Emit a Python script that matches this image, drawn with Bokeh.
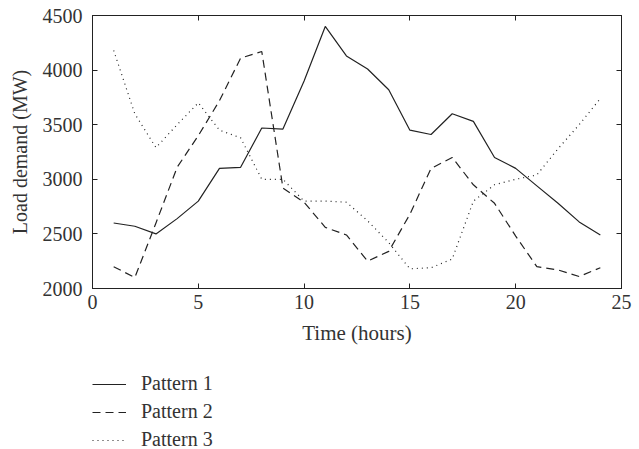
from bokeh.plotting import figure
from bokeh.layouts import column
from bokeh.models import LinearAxis, Range1d, Legend, LegendItem, FixedTicker
from bokeh.embed import file_html
from bokeh.resources import INLINE

hours = list(range(1, 25))
pattern1 = [2600, 2570, 2500, 2640, 2800, 3100, 3110, 3470, 3460, 3900, 4400, 4130,
            4010, 3820, 3450, 3410, 3600, 3530, 3200, 3100, 2940, 2780, 2610, 2490]
pattern2 = [2200, 2100, 2600, 3110, 3400, 3720, 4110, 4170, 2920, 2790, 2560, 2490,
            2250, 2340, 2680, 3100, 3200, 2950, 2780, 2480, 2200, 2170, 2110, 2190]
pattern3 = [4180, 3600, 3290, 3500, 3700, 3450, 3380, 3000, 3000, 2800, 2800, 2790,
            2620, 2420, 2180, 2190, 2270, 2800, 2950, 3000, 3040, 3280, 3500, 3740]
labels = ["Pattern 1", "Pattern 2", "Pattern 3"]
x_ticks = [0, 5, 10, 15, 20, 25]
y_ticks = [2000, 2500, 3000, 3500, 4000, 4500]

FONT = "Liberation Serif"
INK = "#222222"
TXT = "#333333"
DASHES = ["solid", "8 5", "1 4"]
series = [pattern1, pattern2, pattern3]

p = figure(width=635, height=360, output_backend="svg", toolbar_location=None,
           x_range=Range1d(0, 25), y_range=Range1d(2000, 4500),
           min_border_left=92, min_border_right=14, min_border_top=15, min_border_bottom=72)
p.background_fill_color = "white"
p.border_fill_color = "white"
p.outline_line_color = INK
p.outline_line_width = 1
p.grid.visible = False

for ys, dash in zip(series, DASHES):
    p.line(hours, ys, line_color=INK, line_width=1.2, line_dash=dash)

def style(ax):
    ax.major_tick_in = 5
    ax.major_tick_out = 0
    ax.minor_tick_in = 0
    ax.minor_tick_out = 0
    ax.axis_line_color = INK
    ax.major_tick_line_color = INK
    ax.major_label_text_font = FONT
    ax.major_label_text_font_size = "20px"
    ax.major_label_text_color = TXT
    ax.axis_label_text_font = FONT
    ax.axis_label_text_font_size = "20px"
    ax.axis_label_text_font_style = "normal"
    ax.axis_label_text_color = TXT

xa = p.xaxis[0]
ya = p.yaxis[0]
xa.ticker = FixedTicker(ticks=x_ticks)
ya.ticker = FixedTicker(ticks=y_ticks)
style(xa)
style(ya)
xa.axis_label = "Time (hours)"
xa.axis_label_text_font_size = "21px"
ya.axis_label = "Load demand (MW)"
xa.major_label_standoff = 6
xa.axis_label_standoff = 9
ya.major_label_standoff = 10
ya.axis_label_standoff = 9

top = LinearAxis(ticker=FixedTicker(ticks=x_ticks))
right = LinearAxis(ticker=FixedTicker(ticks=y_ticks))
for ax, tk in ((top, x_ticks), (right, y_ticks)):
    style(ax)
    ax.major_label_overrides = {t: "" for t in tk}
    ax.major_label_standoff = 0
p.add_layout(top, "above")
p.add_layout(right, "right")

# legend panel below the chart (its lines lie outside its own view; only the key shows)
lg = figure(width=635, height=89, output_backend="svg", toolbar_location=None,
            x_range=Range1d(0, 25), y_range=Range1d(0, 1),
            min_border_left=0, min_border_right=0, min_border_top=0, min_border_bottom=0)
lg.axis.visible = False
lg.grid.visible = False
lg.outline_line_color = None
lg.border_fill_color = "white"
rends = [lg.line(hours, ys, line_color=INK, line_width=1.2, line_dash=dash)
         for ys, dash in zip(series, DASHES)]

legend = Legend(items=[LegendItem(label=lab, renderers=[r]) for lab, r in zip(labels, rends)],
                location=(0, -2), margin=0, padding=0,
                border_line_color=None, background_fill_alpha=0,
                glyph_width=34, glyph_height=22, label_height=22,
                label_standoff=15, spacing=5,
                label_text_font=FONT, label_text_font_size="20px", label_text_color=TXT)
lg.add_layout(legend, "center")

layout = column(p, lg, spacing=0)
open("out.html", "w").write(file_html(layout, INLINE))
